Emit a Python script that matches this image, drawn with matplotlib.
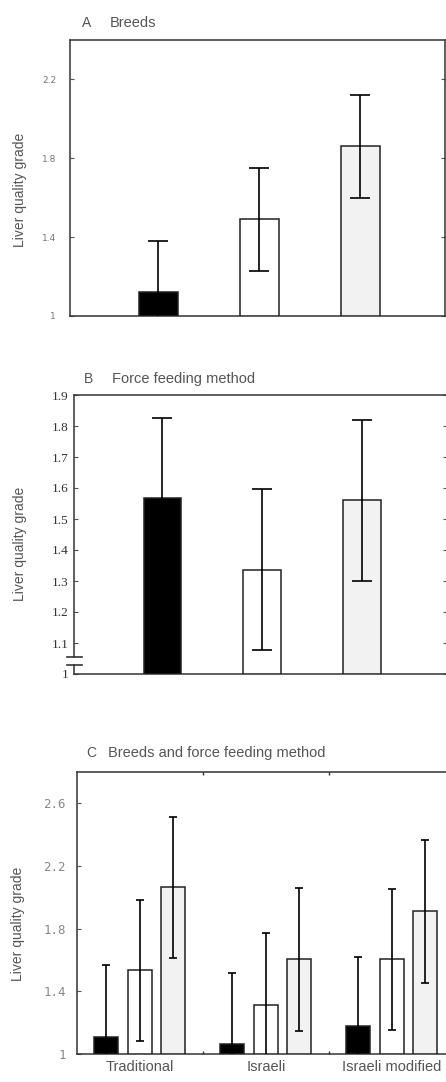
import numpy as np
import matplotlib
matplotlib.use('Agg')
import matplotlib.pyplot as plt

# Data ---------------------------------------------------------------
breeds_mean = [1.12, 1.49, 1.86]
breeds_err = [0.26, 0.26, 0.26]

method_mean = [1.567, 1.337, 1.560]
method_err = [0.26, 0.26, 0.26]

groups = ['Traditional', 'Israeli', 'Israeli modified']
combo_mean = [[1.11, 1.065, 1.18],   # black bars per group
              [1.535, 1.315, 1.605],  # white bars
              [2.065, 1.605, 1.91]]   # grey bars
combo_err = [[0.46, 0.455, 0.44],
             [0.45, 0.455, 0.45],
             [0.45, 0.455, 0.455]]

a_ticks = [1, 1.4, 1.8, 2.2]
a_ticklabels = ['1', '1.4', '1.8', '2.2']
b_ticks = [1, 1.1, 1.2, 1.3, 1.4, 1.5, 1.6, 1.7, 1.8, 1.9]
b_ticklabels = ['1', '1.1', '1.2', '1.3', '1.4', '1.5', '1.6', '1.7', '1.8', '1.9']
c_ticks = [1, 1.4, 1.8, 2.2, 2.6]
c_ticklabels = ['1', '1.4', '1.8', '2.2', '2.6']

fills = ['black', 'white', '#f2f2f2']

W, H = 446, 1082
fig = plt.figure(figsize=(W / 100, H / 100), dpi=100)
plt.rcParams['font.family'] = ['Liberation Sans', 'DejaVu Sans']

TXT = '#555555'


def px_axes(left, right, top, bottom):
    '''Axes from pixel edges.'''
    return fig.add_axes([left / W, 1 - bottom / H, (right - left) / W, (bottom - top) / H])


def style(ax):
    for s in ax.spines.values():
        s.set_color('#333333')
        s.set_linewidth(1.1)
    ax.tick_params(axis='y', direction='in', left=True, right=True, length=3,
                   width=0.8, color='#555555')
    ax.tick_params(axis='x', bottom=False, labelbottom=False)


def title(x_letter, x_text, y, letter, text):
    fig.text(x_letter / W, 1 - y / H, letter, fontsize=10, va='center', color=TXT)
    fig.text(x_text / W, 1 - y / H, text, fontsize=10.5, va='center', color=TXT)


def ylabel(x, y):
    fig.text(x / W, 1 - y / H, 'Liver quality grade', fontsize=10, rotation=90,
             ha='center', va='center', color=TXT)


ekw = dict(fmt='none', ecolor='black', elinewidth=1.2, capthick=1.2, zorder=4)

# Panel A ------------------------------------------------------------
ax = px_axes(70, 445, 40, 316)
xa = np.arange(1, 4)
ax.bar(xa, np.array(breeds_mean) - 1, bottom=1, width=0.38, color=fills,
       edgecolor='#222222', linewidth=1.1, zorder=3)
ax.errorbar(xa, breeds_mean, yerr=breeds_err, capsize=7, **ekw)
ax.set_xlim(0.124, 3.837)
ax.set_ylim(1, 2.4)
ax.set_yticks(a_ticks)
ax.set_yticklabels(a_ticklabels, family='DejaVu Sans', fontsize=6.5, color='#777777')
style(ax)
ax.tick_params(axis='y', pad=10)
title(82, 110, 23, 'A', 'Breeds')
ylabel(20, 190)

# Panel B ------------------------------------------------------------
ax = px_axes(74, 447, 395, 674)
ax.bar(xa, np.array(method_mean) - 1, bottom=1, width=0.38, color=fills,
       edgecolor='#222222', linewidth=1.1, zorder=3)
ax.errorbar(xa, method_mean, yerr=method_err, capsize=7, **ekw)
ax.set_xlim(0.113, 3.852)
ax.set_ylim(1, 1.9)
ax.set_yticks(b_ticks)
ax.set_yticklabels(b_ticklabels, family='Liberation Serif', fontsize=9.5, color='#333333')
style(ax)
ax.tick_params(axis='y', pad=4)
# axis break on the left spine
ax.spines['left'].set_visible(False)
ax.plot([0.113, 0.113], [1.055, 1.9], color='#333333', lw=1.1, clip_on=False, zorder=5)
ax.plot([0.113, 0.113], [1.0, 1.029], color='#333333', lw=1.1, clip_on=False, zorder=5)
tr = ax.get_yaxis_transform()
ax.plot([-0.02, 0.022], [1.055, 1.055], color='#333333', lw=1.2, transform=tr, clip_on=False)
ax.plot([-0.02, 0.022], [1.029, 1.029], color='#333333', lw=1.2, transform=tr, clip_on=False)
title(84, 112, 379, 'B', 'Force feeding method')
ylabel(20, 544)

# Panel C ------------------------------------------------------------
ax = px_axes(77, 455, 772, 1054)
xc = np.arange(len(groups))
offsets = [-0.267, 0.0, 0.264]
for i in range(3):
    ax.bar(xc + offsets[i], np.array(combo_mean[i]) - 1, bottom=1, width=0.19,
           color=fills[i], edgecolor='#222222', linewidth=1.1, zorder=3)
    ax.errorbar(xc + offsets[i], combo_mean[i], yerr=combo_err[i], capsize=3, **ekw)
ax.set_xlim(-0.5, 2.5)
ax.set_ylim(1, 2.8)
ax.set_yticks(c_ticks)
ax.set_yticklabels(c_ticklabels, family='DejaVu Sans Mono', fontsize=9, color='#888888')
style(ax)
ax.tick_params(axis='y', pad=8)
ax.set_xticks(xc)
ax.set_xticklabels(groups, fontsize=10.5, color=TXT)
ax.tick_params(axis='x', which='major', bottom=False, labelbottom=True, length=0, pad=4)
ax.set_xticks([0.5, 1.5], minor=True)
ax.tick_params(axis='x', which='minor', direction='in', bottom=True, top=True,
               length=2.5, width=1, color='#333333')
title(86, 108, 753, 'C', 'Breeds and force feeding method')
ylabel(18, 924)

fig.savefig('out.png', dpi=100)
